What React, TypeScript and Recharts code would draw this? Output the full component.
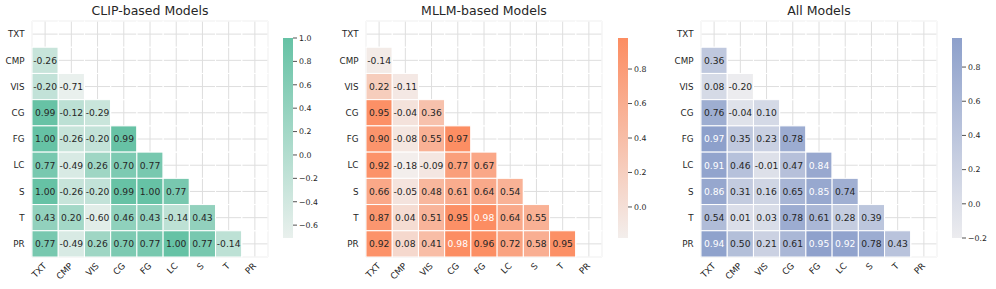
import React from "react";
import {
  ScatterChart,
  Scatter,
  XAxis,
  YAxis,
  CartesianGrid,
  BarChart,
  Bar,
} from "recharts";

const LABELS = ["TXT", "CMP", "VIS", "CG", "FG", "LC", "S", "T", "PR"];

// lower triangle, one row per label (TXT row is empty)
const CLIP_ROWS = [
  [],
  [-0.26],
  [-0.2, -0.71],
  [0.99, -0.12, -0.29],
  [1.0, -0.26, -0.2, 0.99],
  [0.77, -0.49, 0.26, 0.7, 0.77],
  [1.0, -0.26, -0.2, 0.99, 1.0, 0.77],
  [0.43, 0.2, -0.6, 0.46, 0.43, -0.14, 0.43],
  [0.77, -0.49, 0.26, 0.7, 0.77, 1.0, 0.77, -0.14],
];

const MLLM_ROWS = [
  [],
  [-0.14],
  [0.22, -0.11],
  [0.95, -0.04, 0.36],
  [0.9, -0.08, 0.55, 0.97],
  [0.92, -0.18, -0.09, 0.77, 0.67],
  [0.66, -0.05, 0.48, 0.61, 0.64, 0.54],
  [0.87, 0.04, 0.51, 0.95, 0.98, 0.64, 0.55],
  [0.92, 0.08, 0.41, 0.98, 0.96, 0.72, 0.58, 0.95],
];

const ALL_ROWS = [
  [],
  [0.36],
  [0.08, -0.2],
  [0.76, -0.04, 0.1],
  [0.97, 0.35, 0.23, 0.78],
  [0.91, 0.46, -0.01, 0.47, 0.84],
  [0.86, 0.31, 0.16, 0.65, 0.85, 0.74],
  [0.54, 0.01, 0.03, 0.78, 0.61, 0.28, 0.39],
  [0.94, 0.5, 0.21, 0.61, 0.95, 0.92, 0.78, 0.43],
];

const CLIP_TICKS = [-0.6, -0.4, -0.2, 0, 0.2, 0.4, 0.6, 0.8, 1.0];
const MLLM_TICKS = [0, 0.2, 0.4, 0.6, 0.8];
const ALL_TICKS = [-0.2, 0, 0.2, 0.4, 0.6, 0.8];

const POS = [0, 1, 2, 3, 4, 5, 6, 7, 8];

const FONT = "'DejaVu Sans', sans-serif";
const INK = "#262626";
const PLOT = 236;
const CELL = PLOT / 9;

const hexRgb = (h: string) => [
  parseInt(h.slice(1, 3), 16),
  parseInt(h.slice(3, 5), 16),
  parseInt(h.slice(5, 7), 16),
];

const lumOf = (rgb: number[]) => {
  const c = rgb.map((x) => {
    const s = x / 255;
    return s <= 0.03928 ? s / 12.92 : Math.pow((s + 0.055) / 1.055, 2.4);
  });
  return 0.2126 * c[0] + 0.7152 * c[1] + 0.0722 * c[2];
};

type Cell = { x: number; y: number; v: number | null };

function buildCells(rows: number[][]): Cell[] {
  const out: Cell[] = [];
  for (let r = 0; r < LABELS.length; r++) {
    for (let c = 0; c < LABELS.length; c++) {
      out.push({ x: c, y: r, v: c < r ? rows[r][c] : null });
    }
  }
  return out;
}

const XTick = ({ x, y, payload }: any) => {
  const ax = x + 2;
  const ay = y + 9.5;
  return (
    <text
      x={ax}
      y={ay}
      transform={`rotate(-45 ${ax} ${ay})`}
      textAnchor="end"
      fontSize={8.75}
      fontFamily={FONT}
      fill={INK}
    >
      {LABELS[payload.value]}
    </text>
  );
};

const YTick = ({ x, y, payload }: any) => (
  <text
    x={x - 7.5}
    y={y + 3.2}
    textAnchor="end"
    fontSize={8.75}
    fontFamily={FONT}
    fill={INK}
  >
    {LABELS[payload.value]}
  </text>
);

interface PanelProps {
  id: string;
  title: string;
  rows: number[][];
  lo: string;
  hi: string;
  ticks: number[];
  plotLeft: number;
  cbLeft: number;
}

function Panel({ id, title, rows, lo, hi, ticks, plotLeft, cbLeft }: PanelProps) {
  const cells = buildCells(rows);
  const vals = rows.flat();
  const vmin = Math.min(...vals);
  const vmax = Math.max(...vals);
  const loRgb = hexRgb(lo);
  const hiRgb = hexRgb(hi);
  const colorAt = (v: number) => {
    const t = (v - vmin) / (vmax - vmin);
    return loRgb.map((a, i) => Math.round(a + (hiRgb[i] - a) * t));
  };

  const shape = (p: any) => {
    const { cx, cy, payload } = p;
    const v = payload.v;
    if (v === null) {
      return (
        <rect
          x={cx - CELL / 2}
          y={cy - CELL / 2}
          width={CELL}
          height={CELL}
          fill="none"
          stroke="#fff"
          strokeWidth={1}
        />
      );
    }
    const rgb = colorAt(v);
    return (
      <g>
        <rect
          x={cx - CELL / 2}
          y={cy - CELL / 2}
          width={CELL}
          height={CELL}
          fill={`rgb(${rgb.join(",")})`}
          stroke="#fff"
          strokeWidth={1}
        />
        <text
          x={cx}
          y={cy + 3.4}
          textAnchor="middle"
          fontSize={9.2}
          fontFamily={FONT}
          fill={lumOf(rgb) < 0.408 ? "#ffffff" : INK}
        >
          {v.toFixed(2)}
        </text>
      </g>
    );
  };

  const cbData = [{ k: "cb", r: [vmin, vmax] }];

  return (
    <>
      <svg
        width={PLOT}
        height={20}
        style={{ position: "absolute", left: plotLeft, top: 0 }}
      >
        <text
          x={PLOT / 2}
          y={15}
          textAnchor="middle"
          fontSize={12.5}
          fontFamily={FONT}
          fill={INK}
        >
          {title}
        </text>
      </svg>
      <div style={{ position: "absolute", left: plotLeft - 32, top: 0 }}>
        <ScatterChart
          width={32 + PLOT + 4}
          height={289}
          margin={{ top: 21, right: 4, bottom: 0, left: 0 }}
        >
          <CartesianGrid stroke="#dedede" strokeWidth={1} />
          <XAxis
            type="number"
            dataKey="x"
            domain={[-0.5, 8.5]}
            ticks={POS}
            interval={0}
            height={32}
            axisLine={false}
            tickLine={false}
            tickSize={0}
            tickMargin={0}
            tick={<XTick />}
          />
          <YAxis
            type="number"
            dataKey="y"
            domain={[-0.5, 8.5]}
            ticks={POS}
            interval={0}
            reversed
            width={32}
            axisLine={false}
            tickLine={false}
            tickSize={0}
            tickMargin={0}
            tick={<YTick />}
          />
          <Scatter data={cells} shape={shape} isAnimationActive={false} />
        </ScatterChart>
      </div>
      <div style={{ position: "absolute", left: cbLeft, top: 0 }}>
        <BarChart
          width={50}
          height={289}
          data={cbData}
          margin={{ top: 38, right: 0, bottom: 51, left: 0 }}
          barCategoryGap={0}
          barGap={0}
        >
          <defs>
            <linearGradient id={`grad-${id}`} x1="0" y1="0" x2="0" y2="1">
              <stop offset="0%" stopColor={hi} />
              <stop offset="100%" stopColor={lo} />
            </linearGradient>
          </defs>
          <XAxis dataKey="k" hide />
          <YAxis
            orientation="right"
            type="number"
            domain={[vmin, vmax]}
            ticks={ticks}
            interval={0}
            width={40}
            axisLine={false}
            tickSize={4}
            tickMargin={2}
            tickLine={{ stroke: INK, strokeWidth: 0.8 }}
            tick={{ fontSize: 7.8, fill: INK, fontFamily: FONT }}
            tickFormatter={(v: number) => v.toFixed(1).replace("-", "\u2212")}
          />
          <Bar dataKey="r" fill={`url(#grad-${id})`} isAnimationActive={false} />
        </BarChart>
      </div>
    </>
  );
}

export default function App() {
  return (
    <div
      style={{
        position: "absolute",
        left: 0,
        top: 0,
        width: 996,
        height: 289,
        background: "#fff",
        fontFamily: FONT,
      }}
    >
      <Panel
        id="clip"
        title="CLIP-based Models"
        rows={CLIP_ROWS}
        lo="#e9f0ed"
        hi="#66c2a5"
        ticks={CLIP_TICKS}
        plotLeft={32}
        cbLeft={283}
      />
      <Panel
        id="mllm"
        title="MLLM-based Models"
        rows={MLLM_ROWS}
        lo="#f3eeec"
        hi="#fc8d62"
        ticks={MLLM_TICKS}
        plotLeft={366}
        cbLeft={618}
      />
      <Panel
        id="all"
        title="All Models"
        rows={ALL_ROWS}
        lo="#ececef"
        hi="#8da0cb"
        ticks={ALL_TICKS}
        plotLeft={701}
        cbLeft={952}
      />
    </div>
  );
}
